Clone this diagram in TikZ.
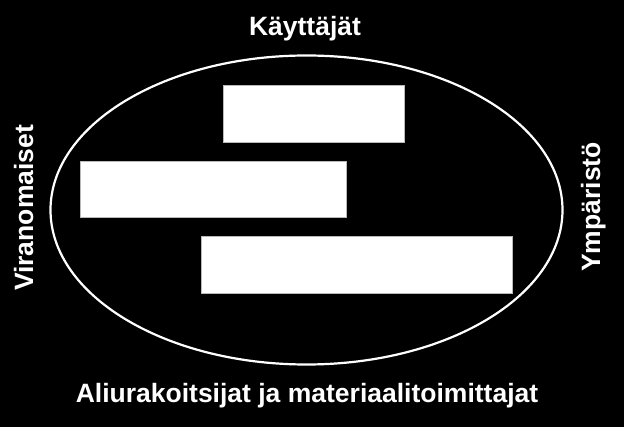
\documentclass[tikz,border=0pt]{standalone}
\usepackage{fontspec}
\setmainfont{Liberation Sans}
\usetikzlibrary{shapes.geometric}

\begin{document}
\begin{tikzpicture}[x=1pt,y=-1pt,inner sep=0pt,
  label/.style={text=white,font=\fontsize{26.5}{30}\selectfont\bfseries,anchor=base},
  box/.style={fill=white,draw=gray!55,line width=0.8pt}]
\fill[black] (0,0) rectangle (624,427);
\useasboundingbox (0,0) rectangle (624,427);
\node[ellipse,draw=white,line width=2.2pt,minimum width=512pt,minimum height=309pt] (ring) at (306.5,210) {};
\node[box,minimum width=181pt,minimum height=57pt] (b1) at (313.5,113.5) {};
\node[box,minimum width=266pt,minimum height=56pt] (b2) at (213,189) {};
\node[box,minimum width=311pt,minimum height=57pt] (b3) at (356.5,264.5) {};
\node[label] (top) at (305,36) {Käyttäjät};
\node[label] (bottom) at (307,403) {Aliurakoitsijat ja materiaalitoimittajat};
\node[label,rotate=90] (left) at (33,208) {Viranomaiset};
\node[label,rotate=90] (right) at (600,207) {Ympäristö};
\end{tikzpicture}
\end{document}
